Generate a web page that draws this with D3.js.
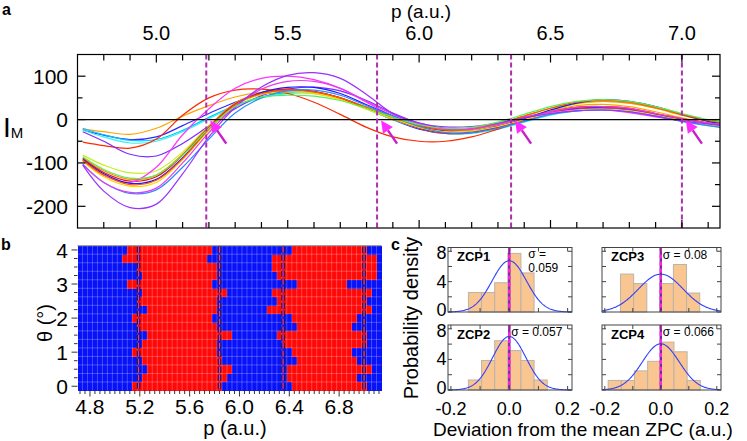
<!DOCTYPE html>
<html><head><meta charset="utf-8">
<script src="https://cdn.jsdelivr.net/npm/d3@7"></script>
<style>body{margin:0;background:#fff}svg{display:block}text{font-family:"Liberation Sans",Arial,Helvetica,sans-serif;fill:#000}</style>
</head><body><svg id="fig" width="747" height="441"></svg>
<script>
// ================= DATA =================
// Panel a: I_M curves sampled at pSample
const pSample = [4.72,4.80,4.90,5.00,5.10,5.20,5.30,5.40,5.50,5.60,5.70,5.80,5.90,6.00,6.10,6.20,6.30,6.40,6.50,6.60,6.70,6.80,6.90,7.00,7.10,7.145];
const curveOrange   = [-22,-28,-34,-20,8,32,52,63,66,62,48,25,0,-20,-28,-25,-12,4,20,32,35,30,18,4,-8,-12];
const curveBlue     = [-24,-36,-46,-40,-14,14,40,58,66,64,50,26,0,-22,-32,-30,-18,0,16,26,28,24,12,0,-10,-14];
const curveCyan     = [-20,-35,-48,-46,-25,5,32,52,62,62,50,28,4,-18,-30,-30,-20,-4,12,22,25,20,10,-2,-12,-16];
const curveAqua     = [-24,-40,-54,-50,-28,2,30,50,60,60,48,24,0,-20,-32,-32,-22,-6,10,20,22,18,8,-4,-14,-17];
const curveRed      = [-52,-60,-66,-45,10,50,68,70,60,40,12,-18,-40,-50,-50,-40,-22,-2,16,28,30,24,12,-2,-12,-16];
const curveViolet   = [-28,-50,-80,-84,-55,-15,25,55,70,75,66,44,15,-8,-20,-22,-14,0,14,24,26,22,12,0,-10,-13];
const curveLime     = [-82,-105,-123,-118,-75,-15,35,62,68,62,48,26,4,-16,-26,-24,-12,4,22,36,42,38,26,10,-4,-8];
const curveOrange2  = [-88,-118,-138,-128,-80,-15,38,62,68,64,50,28,6,-14,-24,-22,-10,8,26,38,42,38,26,10,-4,-8];
const curveRed2     = [-90,-122,-142,-132,-82,-18,36,62,70,65,50,26,2,-20,-32,-30,-18,2,18,28,30,26,14,2,-8,-12];
const curveMagenta  = [-95,-128,-145,-110,-35,25,72,95,100,92,72,40,8,-14,-24,-20,-8,6,16,22,22,16,6,-3,-10,-12];
const curveBlue2    = [-92,-125,-147,-138,-88,-22,34,62,74,74,60,34,8,-14,-26,-26,-16,2,22,38,46,42,30,12,-4,-8];
const curveYellow   = [-96,-132,-154,-145,-92,-25,32,58,64,60,46,24,2,-18,-28,-26,-16,0,14,22,24,20,10,-2,-12,-16];
const curveOrangeRed= [-94,-128,-150,-140,-90,-22,34,60,68,64,50,28,6,-14,-24,-22,-10,8,26,40,45,40,28,12,-2,-6];
const curveAzure    = [-102,-145,-170,-162,-110,-45,15,50,66,68,56,32,8,-16,-30,-30,-20,-4,12,20,22,18,8,-4,-14,-18];
const curveOrchid   = [-104,-145,-168,-158,-100,-30,30,70,88,88,72,42,12,-10,-22,-22,-12,4,18,28,30,26,14,2,-8,-11];
const curvePurple   = [-105,-165,-203,-195,-125,-40,28,75,102,108,95,58,14,-8,-17,-16,-8,4,14,20,22,18,8,-3,-10,-13];
const curveGreen    = [-86,-115,-135,-128,-82,-20,30,52,56,54,44,26,6,-12,-20,-18,-6,12,30,42,46,42,30,14,0,-4];
const curveColors = ["#ffa500","#2b2bff","#00c8ff","#33f0f0","#ff2a00","#7b2bff","#c6f020","#ff8c00","#ee1111","#ff33ff","#1a1aff","#ffd700","#ff5500","#2e8bff","#e63cf0","#9b30ff","#55f055"];

// Mean zero-crossing points (dashed lines)
const zcpMean = [5.19, 5.84, 6.35, 7.00];

// Panel b: zero crossings per tilt angle theta
const theta = [0,0.25,0.5,0.75,1,1.25,1.5,1.75,2,2.25,2.5,2.75,3,3.25,3.5,3.75,4];
const zcp1 = [5.14,5.22,5.26,5.22,5.14,5.22,5.26,5.18,5.14,5.26,5.18,5.22,5.10,5.22,5.18,5.06,5.10];
const zcp2 = [5.86,5.90,5.94,5.86,5.82,5.82,5.94,5.82,5.78,5.82,5.82,5.90,5.78,5.82,5.82,5.74,5.78];
const zcp3 = [6.42,6.38,6.38,6.46,6.42,6.34,6.30,6.46,6.42,6.22,6.30,6.26,6.46,6.30,6.26,6.26,6.42];
const zcp4 = [7.02,6.94,7.06,6.94,6.90,7.02,7.02,6.90,6.94,7.06,7.02,7.06,6.86,7.10,7.10,7.10,7.02];

// Panel c: histograms (bin edges, densities) and Gaussian widths
const zcpNames = ["ZCP1","ZCP2","ZCP3","ZCP4"];
const hist1Edges = [-0.14,-0.095,-0.05,-0.005,0.04,0.085];
const hist1Dens  = [2.57,2.57,3.86,7.72,5.15];
const hist2Edges = [-0.14,-0.095,-0.05,-0.005,0.04,0.085,0.13];
const hist2Dens  = [1.31,3.86,6.44,5.15,3.86,1.31];
const hist3Edges = [-0.144,-0.097,-0.05,-0.003,0.045,0.092,0.139];
const hist3Dens  = [5.0,3.75,0,3.75,6.26,2.5];
const hist4Edges = [-0.188,-0.141,-0.094,-0.047,0.0,0.047,0.094,0.141];
const hist4Dens  = [1.25,1.25,2.5,3.75,6.26,5.0,1.25];
const sigmas = [0.059, 0.057, 0.08, 0.066];
const sigmaLabels = ["0.059","0.057","0.08","0.066"];

// Tick labels
const aTopTickLabels = [5.0,5.5,6.0,6.5,7.0];
const aYTickLabels = [-200,-100,0,100];
const bXTickLabels = [4.8,5.2,5.6,6.0,6.4,6.8];
const bYTickLabels = [0,1,2,3,4];
const cXTickLabels = [-0.2,0.0,0.2];
const cYTickLabels = [0,4,8];

// ================= DRAW =================
const svg = d3.select("#fig");

// ---------- Panel a ----------
const xA = d3.scaleLinear().domain([4.70,7.145]).range([77.5,720]);
const yA = d3.scaleLinear().domain([-250,150]).range([228,54.5]);
const gA = svg.append("g");
const allCurves = [curveOrange,curveBlue,curveCyan,curveAqua,curveRed,curveViolet,curveLime,curveOrange2,curveRed2,curveMagenta,curveBlue2,curveYellow,curveOrangeRed,curveAzure,curveOrchid,curvePurple,curveGreen];
const line = d3.line().x(d=>xA(d[0])).y(d=>yA(d[1])).curve(d3.curveCatmullRom.alpha(0.5));
gA.append("defs").append("clipPath").attr("id","clipA").append("rect")
  .attr("x",xA.range()[0]).attr("y",yA.range()[1]).attr("width",xA.range()[1]-xA.range()[0]).attr("height",yA.range()[0]-yA.range()[1]);
const cg = gA.append("g").attr("clip-path","url(#clipA)");
allCurves.forEach((c,i)=>{
  cg.append("path").datum(pSample.map((p,j)=>[p,c[j]]))
    .attr("d",line).attr("fill","none").attr("stroke",curveColors[i]).attr("stroke-width",1.2);
});
gA.append("line").attr("x1",xA.range()[0]).attr("x2",xA.range()[1]).attr("y1",yA(0)).attr("y2",yA(0))
  .attr("stroke","#000").attr("stroke-width",1.3);
zcpMean.forEach(m=>{
  gA.append("line").attr("x1",xA(m)).attr("x2",xA(m)).attr("y1",yA.range()[1]).attr("y2",yA.range()[0])
    .attr("stroke","#b02cb0").attr("stroke-width",2).attr("stroke-dasharray","5,3");
});
zcpMean.forEach(m=>{
  const tx = xA(m)+4, ty = yA(0)+1;
  const sx = tx+16, sy = ty+23;
  const dx = tx-sx, dy = ty-sy, L = Math.hypot(dx,dy), ux=dx/L, uy=dy/L;
  const bx = tx-ux*12, by = ty-uy*12, px=-uy*6, py=ux*6;
  gA.append("line").attr("x1",sx).attr("y1",sy).attr("x2",bx).attr("y2",by).attr("stroke","#c81ec8").attr("stroke-width",2.4);
  gA.append("path").attr("d",`M${tx},${ty}L${bx+px},${by+py}L${bx-px},${by-py}Z`).attr("fill","#ff2cff");
});
gA.append("rect").attr("x",xA.range()[0]).attr("y",yA.range()[1]).attr("width",xA.range()[1]-xA.range()[0]).attr("height",yA.range()[0]-yA.range()[1])
  .attr("fill","none").attr("stroke","#000").attr("stroke-width",1.2);
d3.range(4.8,7.15,0.1).forEach(v=>{
  const major = aTopTickLabels.some(t=>Math.abs(t-v)<1e-6);
  const len = major?8:6;
  const x = xA(v);
  gA.append("line").attr("x1",x).attr("x2",x).attr("y1",yA.range()[1]).attr("y2",yA.range()[1]+len).attr("stroke","#000").attr("stroke-width",1.2);
  gA.append("line").attr("x1",x).attr("x2",x).attr("y1",yA.range()[0]).attr("y2",yA.range()[0]-len).attr("stroke","#000").attr("stroke-width",1.2);
});
aTopTickLabels.forEach(v=>{
  gA.append("text").attr("x",xA(v)).attr("y",40).attr("text-anchor","middle").attr("font-size",20).text(v.toFixed(1));
});
d3.range(-200,150,50).forEach(v=>{
  const major = aYTickLabels.includes(v);
  const len = major?8:5;
  const y = yA(v);
  gA.append("line").attr("x1",xA.range()[0]).attr("x2",xA.range()[0]+len).attr("y1",y).attr("y2",y).attr("stroke","#000").attr("stroke-width",1.2);
  gA.append("line").attr("x1",xA.range()[1]).attr("x2",xA.range()[1]-len).attr("y1",y).attr("y2",y).attr("stroke","#000").attr("stroke-width",1.2);
});
aYTickLabels.forEach(v=>{
  gA.append("text").attr("x",68).attr("y",yA(v)).attr("dy","0.36em").attr("text-anchor","end").attr("font-size",21).text(v);
});
gA.append("text").attr("x",421).attr("y",18).attr("text-anchor","middle").attr("font-size",19).text("p (a.u.)");
const lab = gA.append("text").attr("x",3).attr("y",137).attr("font-size",28);
lab.append("tspan").text("I");
lab.append("tspan").attr("font-size",15).attr("dy",1).text("M");
svg.append("text").attr("x",2).attr("y",15).attr("font-size",16).attr("font-weight","bold").text("a");

// ---------- Panel b ----------
const xB = d3.scaleLinear().domain([4.70,7.14]).range([77.5,381.5]);
const yB = d3.scaleLinear().domain([-0.125,4.125]).range([390.5,245.7]);
const gB = svg.append("g");
const rowH = Math.abs(yB(0.25)-yB(0));
const cBlue = "#0812f8", cRed = "#ff0808";
theta.forEach((t,i)=>{
  const edges = [xB.domain()[0], zcp1[i], zcp2[i], zcp3[i], zcp4[i], xB.domain()[1]];
  for(let k=0;k<5;k++){
    gB.append("rect").attr("x",xB(edges[k])).attr("width",xB(edges[k+1])-xB(edges[k]))
      .attr("y",yB(t)-rowH/2).attr("height",rowH+0.3)
      .attr("fill",k%2===0?cBlue:cRed).attr("shape-rendering","crispEdges");
  }
});
d3.range(4.70,7.14,0.04).forEach(v=>{
  gB.append("line").attr("x1",xB(v)).attr("x2",xB(v)).attr("y1",yB.range()[1]).attr("y2",yB.range()[0])
    .attr("stroke","#fff").attr("stroke-opacity",0.35).attr("stroke-width",0.7);
});
theta.forEach(t=>{
  gB.append("line").attr("x1",xB.range()[0]).attr("x2",xB.range()[1]).attr("y1",yB(t)-rowH/2).attr("y2",yB(t)-rowH/2)
    .attr("stroke","#fff").attr("stroke-opacity",0.35).attr("stroke-width",0.7);
});
zcpMean.forEach(m=>{
  gB.append("line").attr("x1",xB(m)).attr("x2",xB(m)).attr("y1",yB.range()[1]+1).attr("y2",yB.range()[0])
    .attr("stroke","#2a1030").attr("stroke-width",3.6).attr("stroke-dasharray","6,2");
  gB.append("line").attr("x1",xB(m)).attr("x2",xB(m)).attr("y1",yB.range()[1]+1).attr("y2",yB.range()[0])
    .attr("stroke","#d03ad0").attr("stroke-width",1.3).attr("stroke-dasharray","6,2");
});
gB.append("line").attr("x1",xB.range()[0]).attr("x2",xB.range()[1]).attr("y1",yB.range()[1]).attr("y2",yB.range()[1]).attr("stroke","#888").attr("stroke-width",1);
d3.range(4.72,7.14,0.04).forEach(v=>{
  const major = bXTickLabels.some(t=>Math.abs(t-v)<1e-6);
  gB.append("line").attr("x1",xB(v)).attr("x2",xB(v)).attr("y1",yB.range()[0]).attr("y2",yB.range()[0]+(major?6:3.5)).attr("stroke","#333").attr("stroke-width",1);
});
bXTickLabels.forEach(v=>{
  gB.append("text").attr("x",xB(v)).attr("y",413.5).attr("text-anchor","middle").attr("font-size",21).text(v.toFixed(1));
});
theta.forEach(t=>{
  const major = Number.isInteger(t);
  gB.append("line").attr("x1",xB.range()[0]).attr("x2",xB.range()[0]-(major?6:3.5)).attr("y1",yB(t)).attr("y2",yB(t)).attr("stroke","#333").attr("stroke-width",1);
});
bYTickLabels.forEach(v=>{
  gB.append("text").attr("x",68).attr("y",yB(v)).attr("dy","0.36em").attr("text-anchor","end").attr("font-size",21).text(v);
});
gB.append("text").attr("x",235).attr("y",435).attr("text-anchor","middle").attr("font-size",20).text("p (a.u.)");
gB.append("text").attr("transform","translate(52,323) rotate(-90)").attr("text-anchor","middle").attr("font-size",20).text("θ (°)");
svg.append("text").attr("x",1).attr("y",250).attr("font-size",16).attr("font-weight","bold").text("b");

// ---------- Panel c ----------
const histEdges = [hist1Edges,hist2Edges,hist3Edges,hist4Edges];
const histDens = [hist1Dens,hist2Dens,hist3Dens,hist4Dens];
const boxes = [
  {x0:448,x1:572,y0:247.5,y1:312,left:true,bottom:false},
  {x0:448,x1:572,y0:325,y1:390,left:true,bottom:true},
  {x0:602,x1:721,y0:247.5,y1:312,left:false,bottom:false},
  {x0:602,x1:721,y0:325,y1:390,left:false,bottom:true}
];
const yLabShift = {0:4, 4:6, 8:8};
const gC = svg.append("g");
zcpNames.forEach((name,i)=>{
  const b = boxes[i];
  const x = d3.scaleLinear().domain([-0.21,0.215]).range([b.x0,b.x1]);
  const y = d3.scaleLinear().domain([0,8.5]).range([b.y1,b.y0]);
  const g = gC.append("g");
  const E = histEdges[i], D = histDens[i];
  D.forEach((d,k)=>{
    if(d<=0) return;
    g.append("rect").attr("x",x(E[k])).attr("width",x(E[k+1])-x(E[k])).attr("y",y(d)).attr("height",y(0)-y(d))
      .attr("fill","#f9c590").attr("stroke","#bdb3a8").attr("stroke-width",1);
  });
  const s = sigmas[i];
  const gx = d3.range(-0.21,0.2151,0.002);
  g.append("path").datum(gx.map(v=>[v, Math.exp(-v*v/(2*s*s))/(s*Math.sqrt(2*Math.PI))]))
    .attr("d",d3.line().x(d=>x(d[0])).y(d=>y(d[1]))).attr("fill","none").attr("stroke","#3040ff").attr("stroke-width",1.1);
  g.append("line").attr("x1",x(0)).attr("x2",x(0)).attr("y1",b.y0).attr("y2",b.y1).attr("stroke","#7a2aa0").attr("stroke-width",2.4);
  g.append("line").attr("x1",x(0)).attr("x2",x(0)).attr("y1",b.y0).attr("y2",b.y1).attr("stroke","#ff22e0").attr("stroke-width",2.4).attr("stroke-dasharray","4,3");
  g.append("rect").attr("x",b.x0).attr("y",b.y0).attr("width",b.x1-b.x0).attr("height",b.y1-b.y0).attr("fill","none").attr("stroke","#444").attr("stroke-width",1);
  [-0.2,-0.1,0,0.1,0.2].forEach(v=>{
    g.append("line").attr("x1",x(v)).attr("x2",x(v)).attr("y1",b.y1).attr("y2",b.y1-4).attr("stroke","#444");
    g.append("line").attr("x1",x(v)).attr("x2",x(v)).attr("y1",b.y0).attr("y2",b.y0+4).attr("stroke","#444");
  });
  [0,2,4,6,8].forEach(v=>{
    g.append("line").attr("x1",b.x0).attr("x2",b.x0+4).attr("y1",y(v)).attr("y2",y(v)).attr("stroke","#444");
    g.append("line").attr("x1",b.x1).attr("x2",b.x1-4).attr("y1",y(v)).attr("y2",y(v)).attr("stroke","#444");
  });
  if(b.left){
    cYTickLabels.forEach(v=>{
      g.append("text").attr("x",b.x0-1.5).attr("y",y(v)+yLabShift[v]).attr("text-anchor","end").attr("font-size",18).text(v);
    });
  }
  if(b.bottom){
    cXTickLabels.forEach(v=>{
      g.append("text").attr("x",x(v)).attr("y",414.5).attr("text-anchor","middle").attr("font-size",18).text(v.toFixed(1));
    });
  }
  g.append("text").attr("x",b.x0+9).attr("y",b.y0+13.5).attr("font-size",13).attr("font-weight","bold").text(name);
  if(i===0){
    g.append("text").attr("x",x(0)+19).attr("y",b.y0+10).attr("font-size",12).text("σ =");
    g.append("text").attr("x",x(0)+19).attr("y",b.y0+24).attr("font-size",12).text(sigmaLabels[i]);
  } else {
    g.append("text").attr("x",x(0)+2).attr("y",b.y0+11).attr("font-size",12).text("σ = "+sigmaLabels[i]);
  }
});
gC.append("text").attr("transform","translate(418,318) rotate(-90)").attr("text-anchor","middle").attr("font-size",20).text("Probability density");
gC.append("text").attr("x",583).attr("y",436).attr("text-anchor","middle").attr("font-size",19).text("Deviation from the mean ZPC (a.u.)");
svg.append("text").attr("x",391).attr("y",250).attr("font-size",16).attr("font-weight","bold").text("c");
</script>
</body></html>
